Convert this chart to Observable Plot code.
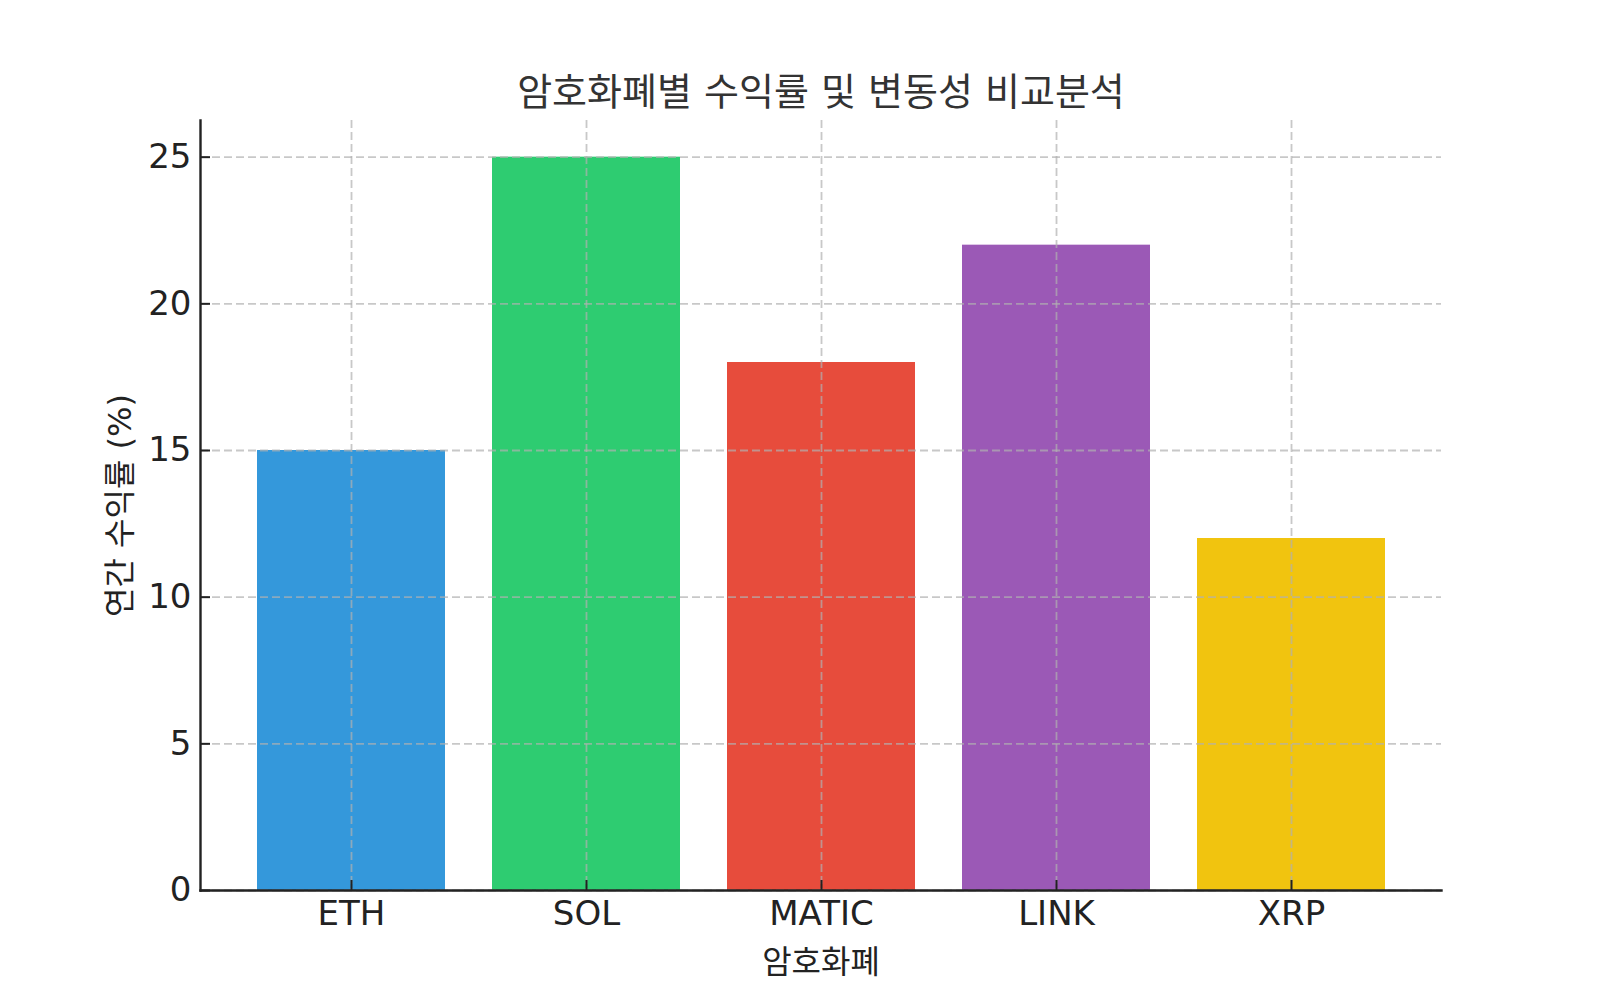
<!DOCTYPE html>
<html><head><meta charset="utf-8">
<script src="https://cdn.jsdelivr.net/npm/d3@7"></script>
<script src="https://cdn.jsdelivr.net/npm/@observablehq/plot@0.6"></script>
<style>body{margin:0;background:#fff} svg{display:block}</style>
</head><body><div id="chart"></div>
<script>
const coins = ["ETH", "SOL", "MATIC", "LINK", "XRP"];
const returns = [15, 25, 18, 22, 12];
const colors = ["#3498db", "#2ecc71", "#e74c3c", "#9b59b6", "#f1c40f"];
const yTicks = [0, 5, 10, 15, 20, 25];
const titleText = "암호화폐별 수익률 및 변동성 비교분석";
const xLabel = "암호화폐";
const yLabel = "연간 수익률 (%)";

const data = coins.map((c, i) => ({coin: c, value: returns[i]}));
const ink = "#222";
const font = "DejaVu Sans, 'Noto Sans CJK KR', sans-serif";

const chart = Plot.plot({
  width: 1600,
  height: 1000,
  marginLeft: 200,
  marginRight: 159,
  marginTop: 120,
  marginBottom: 110,
  style: {fontFamily: font, color: ink, background: "#fff"},
  x: {domain: coins, paddingInner: 0.2, paddingOuter: 0.24, label: null},
  y: {domain: [0, 26.25], label: null},
  color: {domain: coins, range: colors},
  marks: [
    Plot.barY(data, {x: "coin", y: "value", fill: "coin"}),
    Plot.gridY(yTicks, {stroke: "#b0b0b0", strokeOpacity: 0.7, strokeWidth: 1.8, strokeDasharray: "8,4"}),
    Plot.gridX(coins, {stroke: "#b0b0b0", strokeOpacity: 0.7, strokeWidth: 1.8, strokeDasharray: "8,4"}),
    Plot.axisY(yTicks, {tickSize: -10, tickPadding: 19, fontSize: 34, stroke: ink, strokeWidth: 2, label: null, fill: ink}),
    Plot.axisX(coins, {tickSize: -10, tickPadding: 20, fontSize: 34, stroke: ink, strokeWidth: 2, label: null, fill: ink}),
    Plot.frame({anchor: "left", stroke: ink, strokeWidth: 2.4}),
    Plot.frame({anchor: "bottom", stroke: ink, strokeWidth: 2.4}),
    Plot.text([titleText], {text: d => d, frameAnchor: "top", textAnchor: "middle", lineAnchor: "middle", dy: -28, fontSize: 38, fill: "#333"}),
    Plot.text([yLabel], {text: d => d, frameAnchor: "left", textAnchor: "middle", lineAnchor: "middle", rotate: -90, dx: -80, fontSize: 32, fill: ink}),
    Plot.text([xLabel], {text: d => d, frameAnchor: "bottom", textAnchor: "middle", lineAnchor: "middle", dy: 72, fontSize: 32, fill: ink})
  ]
});
document.getElementById("chart").appendChild(chart);
</script>
</body></html>
